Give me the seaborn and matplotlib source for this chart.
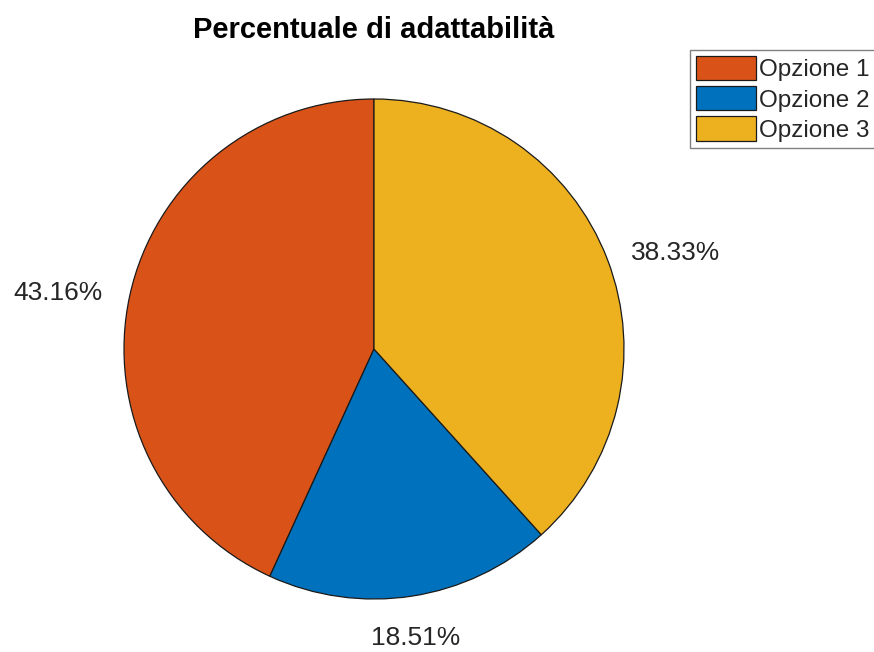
import matplotlib
matplotlib.use("Agg")
import matplotlib.pyplot as plt
import matplotlib.transforms as mtransforms
import seaborn as sns
import numpy as np

categories = ["Opzione 1", "Opzione 2", "Opzione 3"]
values = [43.16, 18.51, 38.33]
title = "Percentuale di adattabilità"
palette = ["#D95319", "#0072BD", "#EDB120"]

sns.set_theme(style="white")
plt.rcParams['font.family'] = ['Liberation Sans', 'DejaVu Sans']

fig = plt.figure(figsize=(8.74, 6.52), dpi=100)
ax = fig.add_axes([124/874, 1 - 599/652, 500/874, 500/652])
colors = sns.color_palette(palette, n_colors=3)
labels = [f"{v:.2f}%" for v in values]
wedges, texts = ax.pie(values, labels=labels, colors=colors, startangle=90,
                       counterclock=True, labeldistance=1.1, radius=1.0,
                       wedgeprops=dict(edgecolor="#1a1a1a", linewidth=0.9),
                       textprops=dict(fontsize=19, color="#262626"))
for t in texts:
    x, y = t.get_position()
    if abs(x) < 0.35 * abs(y):
        t.set_ha("center")
        t.set_va("top" if y < 0 else "bottom")
        t.set_transform(mtransforms.offset_copy(ax.transData, fig=fig, x=0, y=-4, units="points"))
    else:
        t.set_transform(mtransforms.offset_copy(ax.transData, fig=fig, x=-2 if x < 0 else 0, y=-2, units="points"))
ax.set_xlim(-1, 1)
ax.set_ylim(-1, 1)
ax.set_aspect("equal")
ax.axis("off")

fig.text(374/874, 1 - 30/652, title, ha="center", va="center",
         fontsize=21, fontweight="bold", color="black")

leg = fig.legend(wedges, categories, loc="upper left",
                 bbox_to_anchor=(690/874, 1 - 50/652), bbox_transform=fig.transFigure,
                 borderaxespad=0, fontsize=17.5, handlelength=2.45, handleheight=1.15,
                 handletextpad=0.12, labelspacing=0.2, borderpad=0.25,
                 fancybox=False, framealpha=1, edgecolor="#808080")
leg.get_frame().set_linewidth(1.0)

fig.savefig("out.png", dpi=100, facecolor="white")
